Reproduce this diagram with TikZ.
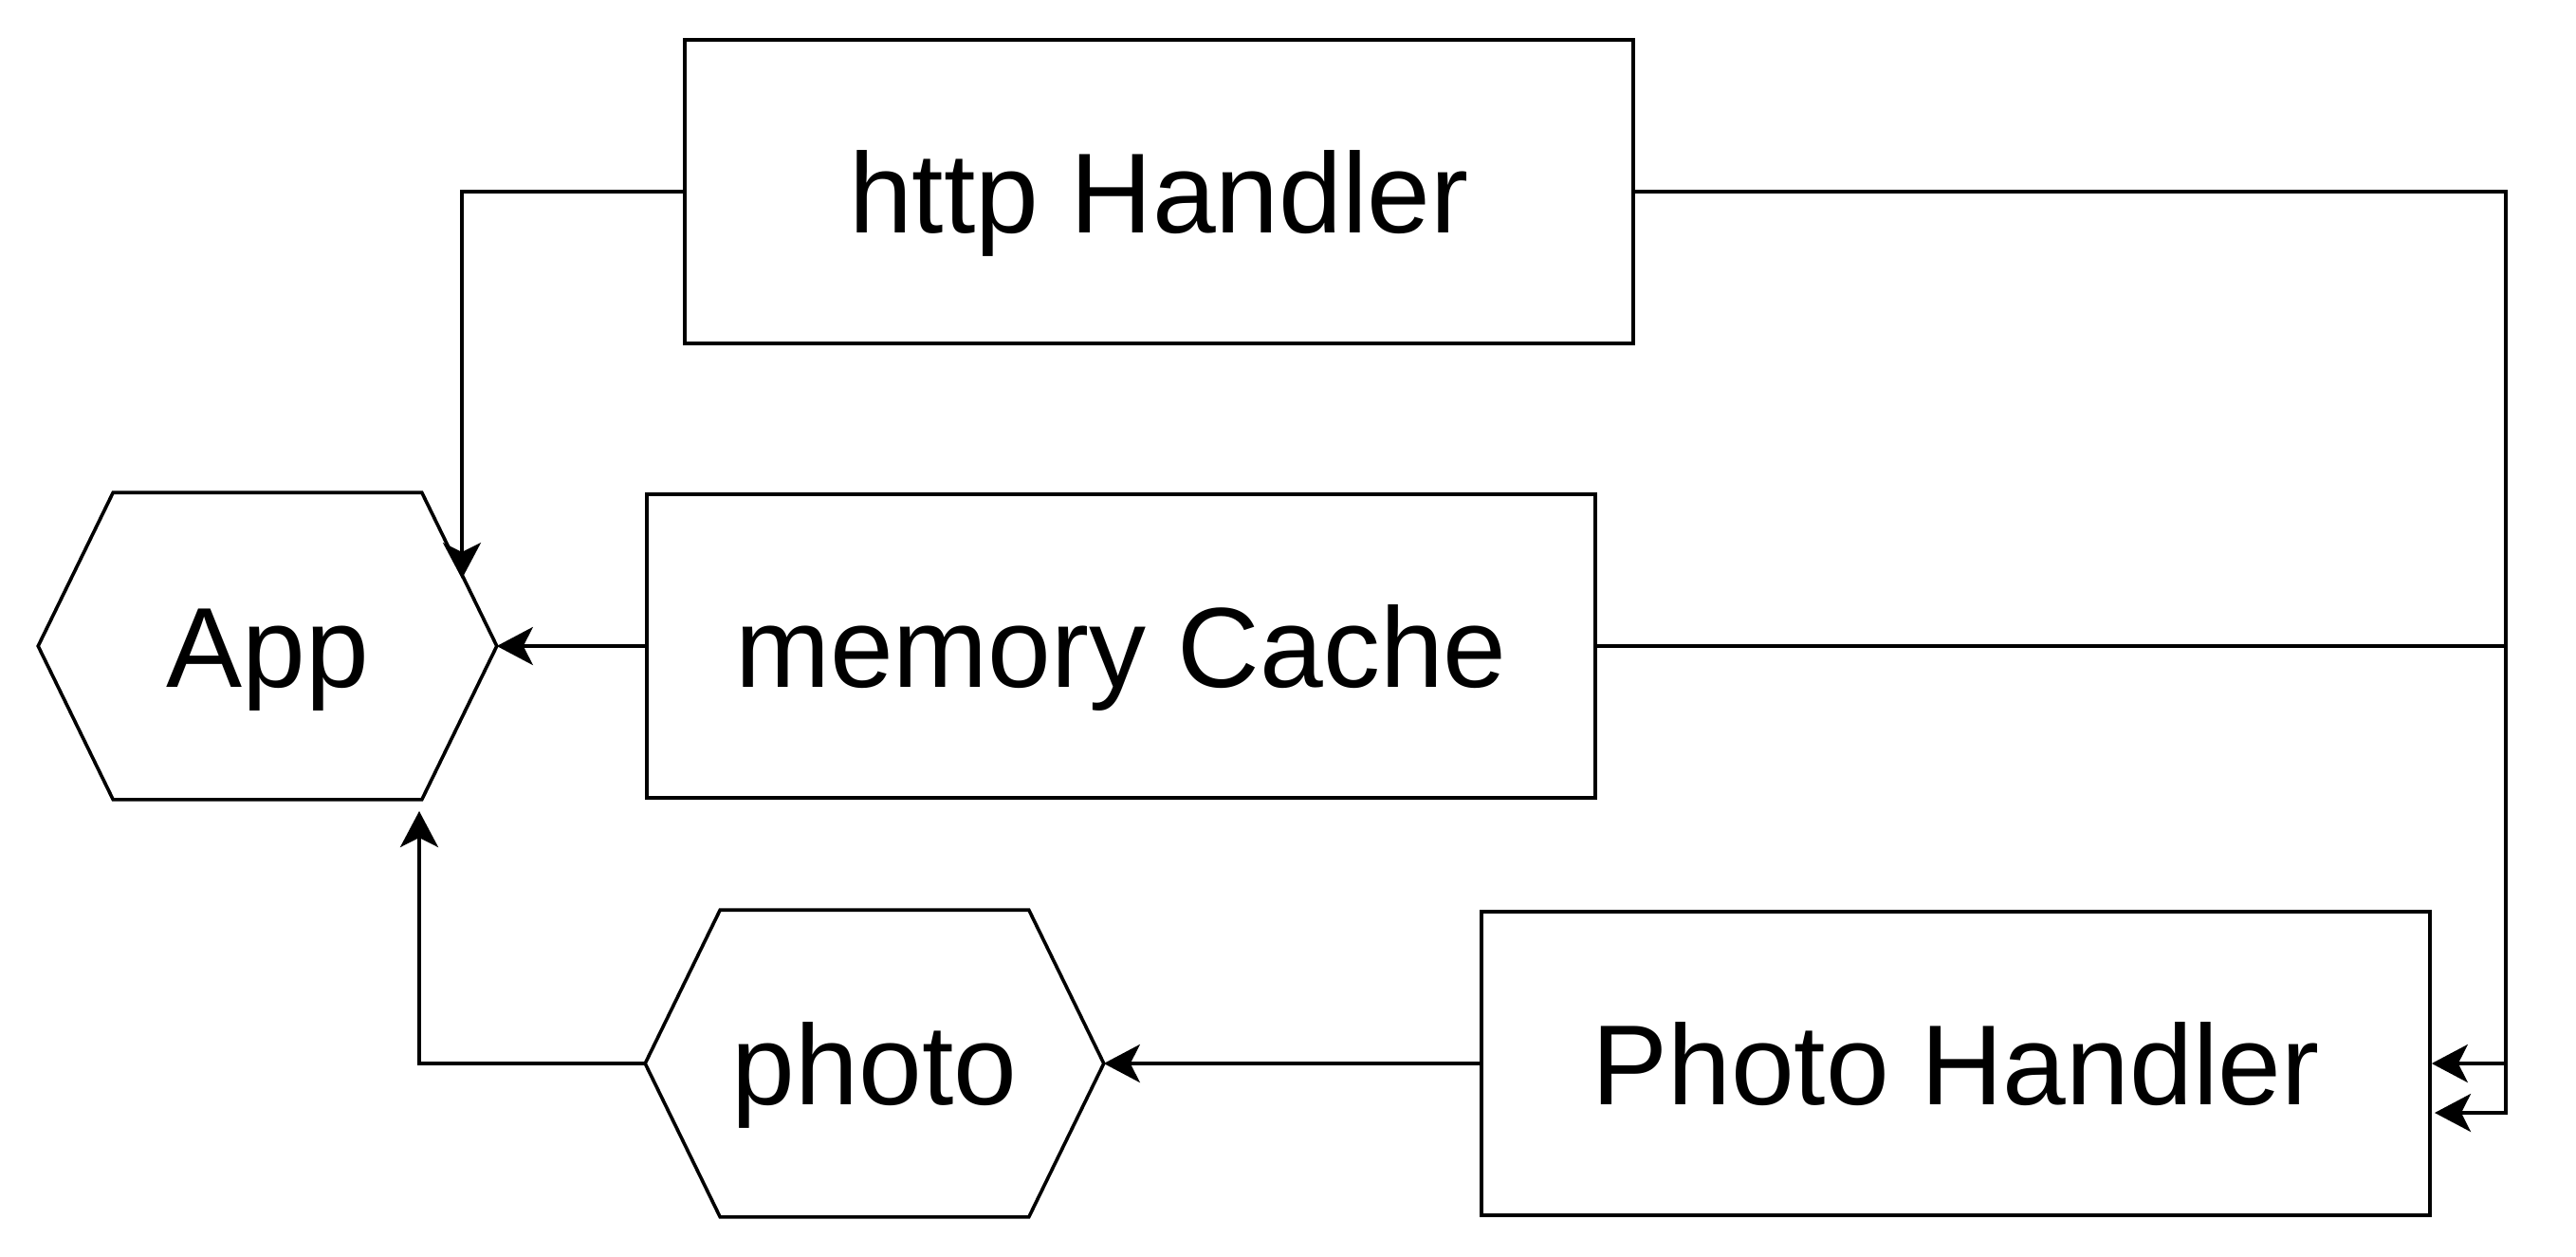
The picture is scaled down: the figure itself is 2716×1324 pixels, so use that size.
\documentclass[tikz,border=0pt]{standalone}
\usepackage{fontspec}
\setmainfont{Liberation Sans}
\usetikzlibrary{arrows.meta,calc}
\begin{document}
\begin{tikzpicture}[x=0.5pt,y=-0.5pt,
  line width=1.8pt,
  lbl/.style={inner sep=0pt, font=\fontsize{60}{72}\selectfont, text height=43pt, text depth=0pt},
  box/.style={lbl, draw, line width=1.8pt, minimum width=500pt, minimum height=160pt},
  hexa/.style={lbl, minimum width=240pt, minimum height=160pt},
  conn/.style={-{Stealth[length=19pt,width=20pt,inset=5pt]}, line width=1.8pt}]
\useasboundingbox (0,0) rectangle (2716,1324);
\node[box] (http) at (1222,202) {http Handler};
\node[box] (mem) at (1182,681) {memory Cache};
\node[box] (ph) at (2062,1121) {Photo Handler};
\node[hexa] (app) at (282,681) {App};
\node[hexa] (photo) at (922,1121) {photo};
\foreach \n in {app,photo}{
  \draw[line width=1.8pt, miter limit=1.5] (\n.west) -- ($(\n.north west)+(79,0)$) -- ($(\n.north east)+(-79,0)$) -- (\n.east) -- ($(\n.south east)+(-79,0)$) -- ($(\n.south west)+(79,0)$) -- cycle;
}
\coordinate (appin) at (487,610);
\coordinate (appbot) at (442,855);
\coordinate (rx) at (2642,0);
\coordinate (phin2) at (2567,1173);
\draw[conn] (http.west) -| (appin);
\draw[conn] (mem.west) -- (app.east);
\draw[conn] (photo.west) -| (appbot);
\draw[conn] (ph.west) -- (photo.east);
\draw[conn] (http.east) -- (http.east -| rx) -- (ph.east -| rx) -- (ph.east);
\draw[conn] (mem.east) -- (mem.east -| rx) -- (phin2 -| rx) -- (phin2);
\end{tikzpicture}
\end{document}
